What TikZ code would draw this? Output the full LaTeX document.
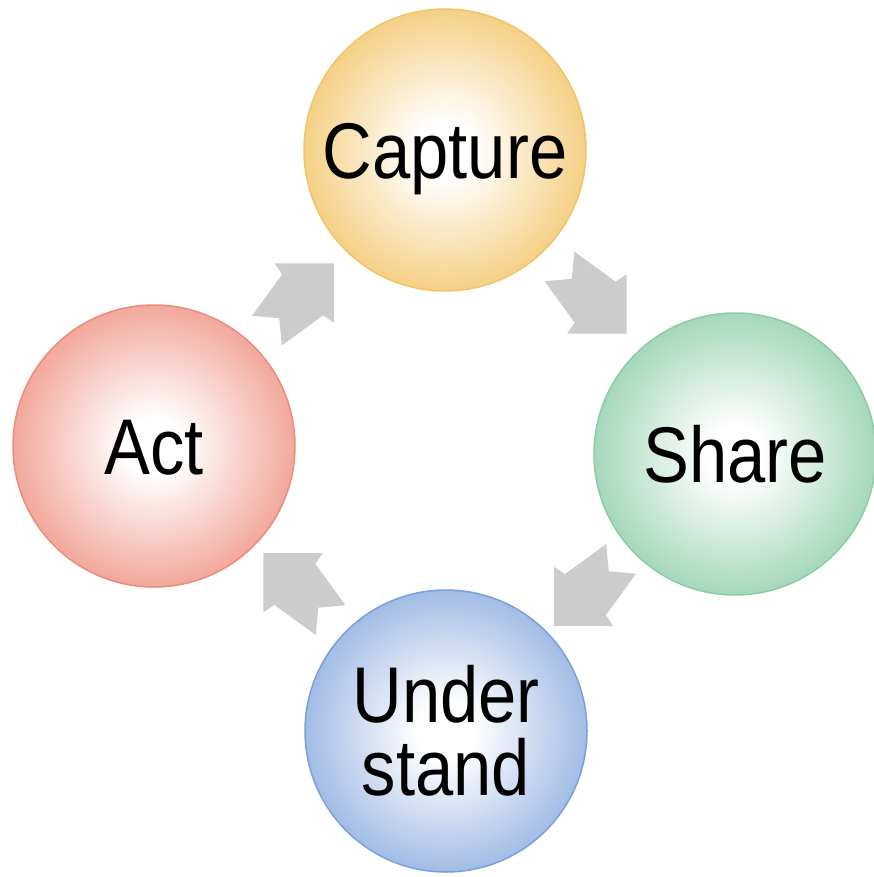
\documentclass[tikz,border=0pt]{standalone}
\usepackage{fontspec}
\newfontfamily\labfont[FakeStretch=0.87]{Liberation Sans}
\usetikzlibrary{calc}
\definecolor{capedge}{RGB}{245,208,134}
\definecolor{capborder}{RGB}{240,196,104}
\definecolor{shareedge}{RGB}{165,216,186}
\definecolor{shareborder}{RGB}{140,204,165}
\definecolor{undedge}{RGB}{162,188,229}
\definecolor{undborder}{RGB}{122,160,220}
\definecolor{actedge}{RGB}{242,168,155}
\definecolor{actborder}{RGB}{237,140,124}
\definecolor{arrowgray}{RGB}{204,204,204}
\pgfdeclareradialshading{capshade}{\pgfpoint{0bp}{0bp}}{color(0bp)=(white); color(5bp)=(white); color(25bp)=(capedge); color(50bp)=(capedge)}
\pgfdeclareradialshading{shareshade}{\pgfpoint{0bp}{0bp}}{color(0bp)=(white); color(5bp)=(white); color(25bp)=(shareedge); color(50bp)=(shareedge)}
\pgfdeclareradialshading{undshade}{\pgfpoint{0bp}{0bp}}{color(0bp)=(white); color(5bp)=(white); color(25bp)=(undedge); color(50bp)=(undedge)}
\pgfdeclareradialshading{actshade}{\pgfpoint{0bp}{0bp}}{color(0bp)=(white); color(5bp)=(white); color(25bp)=(actedge); color(50bp)=(actedge)}
\tikzset{
  stage/.style={circle, minimum size=282pt, inner sep=0pt, line width=1.5pt,
    font=\labfont\fontsize{79}{73}\selectfont, align=center, text=black},
  oneline/.style={text height=57pt, text depth=0pt},
  flowarrow/.style={fill=arrowgray, draw=none},
}
\newcommand\cyclearrowshape{(47.5,0) -- (5.5,42) -- (3,29) -- (-47.5,21) -- (-30,0) -- (-47.5,-21) -- (3,-29) -- (5.5,-42) -- cycle}
\begin{document}
\begin{tikzpicture}[x=1pt,y=-1pt]
\useasboundingbox (0,0) rectangle (873,877);
\node[stage, oneline, shade, shading=capshade, draw=capborder] (cap) at (445,150) {Capture};
\node[stage, oneline, shade, shading=shareshade, draw=shareborder] (share) at (735,454) {Share};
\node[stage, shade, shading=undshade, draw=undborder] (und) at (446,731) {Under\\stand};
\node[stage, oneline, shade, shading=actshade, draw=actborder] (act) at (154,446) {Act};
\fill[flowarrow, shift={($(act)!0.5!(cap)$)}, shift={(1,-1)}, rotate=45] \cyclearrowshape;
\fill[flowarrow, shift={($(cap)!0.5!(share)$)}, shift={(3,-2)}, rotate=-45] \cyclearrowshape;
\fill[flowarrow, shift={($(share)!0.5!(und)$)}, shift={(-3,0)}, rotate=-135] \cyclearrowshape;
\fill[flowarrow, shift={($(und)!0.5!(act)$)}, shift={(-3,-2)}, rotate=135] \cyclearrowshape;
\end{tikzpicture}
\end{document}
